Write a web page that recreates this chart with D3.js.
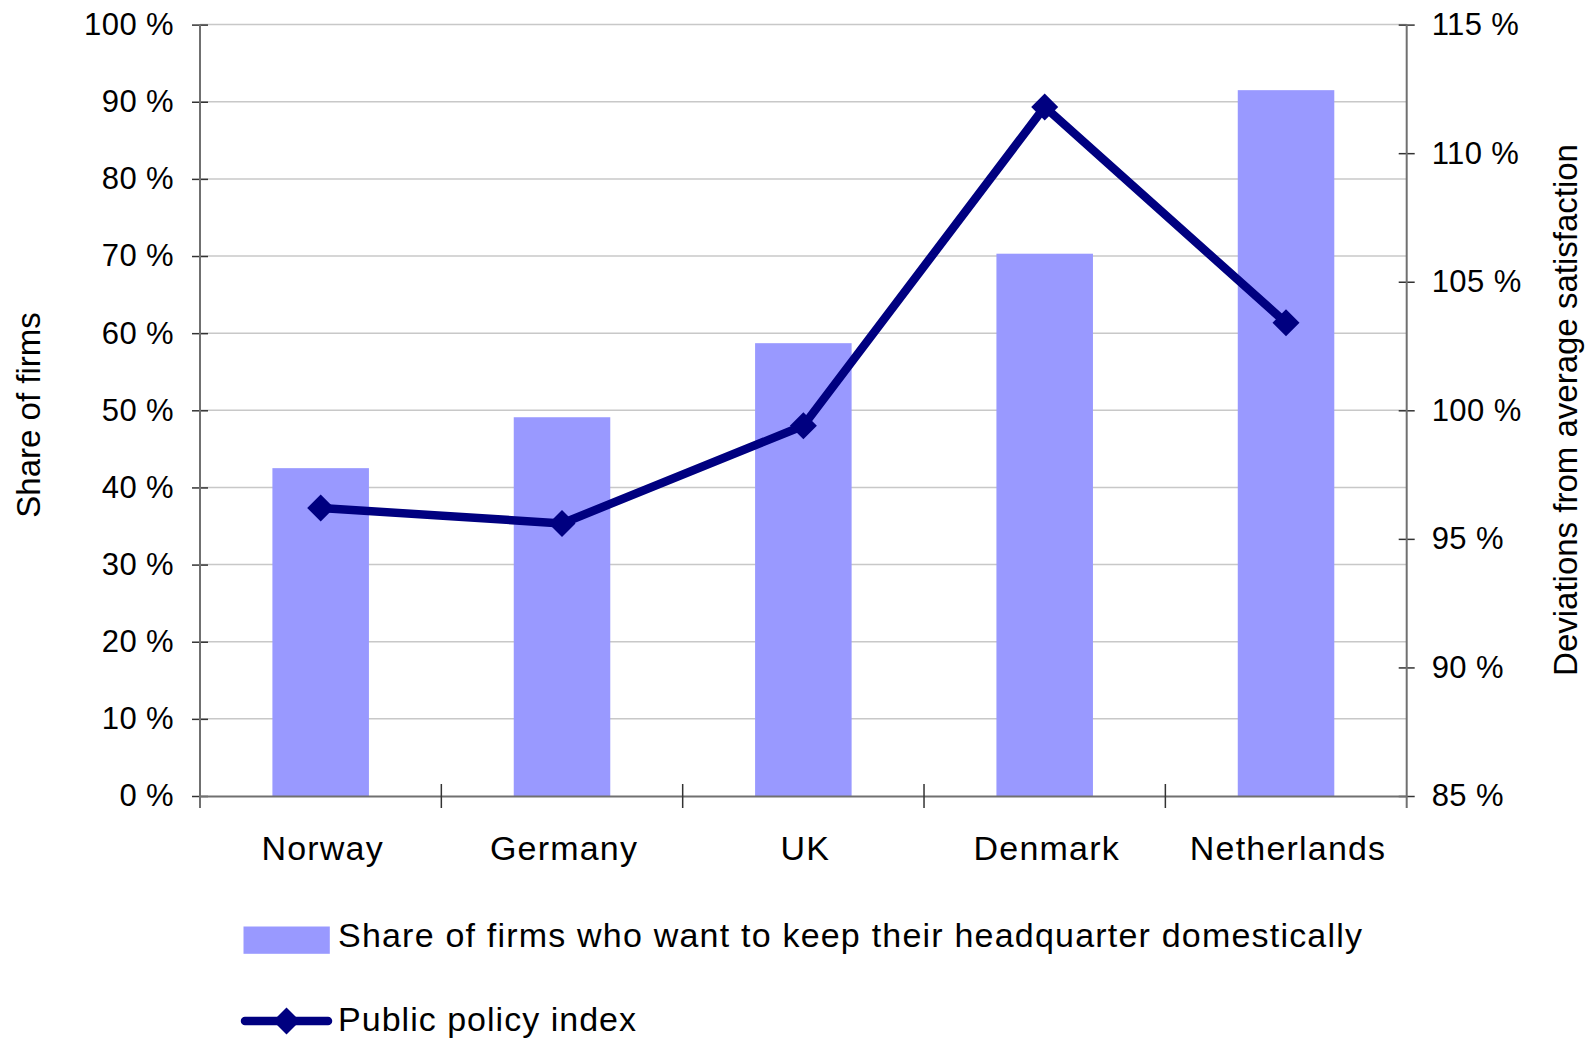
<!DOCTYPE html>
<html>
<head>
<meta charset="utf-8">
<script src="https://cdn.jsdelivr.net/npm/d3@7"></script>
<style>
  body { margin: 0; background: #fff; }
  svg { display: block; font-family: "Liberation Sans", Arial, sans-serif; }
</style>
</head>
<body>
<svg id="chart" width="1591" height="1039"></svg>
<script>
// Data
let countries = ["Norway", "Germany", "UK", "Denmark", "Netherlands"];
let shareKeepHQ = [42.5, 49.1, 58.7, 70.3, 91.5];
let policyIndex = [96.2, 95.6, 99.4, 111.8, 103.4];
let leftTicks = [0, 10, 20, 30, 40, 50, 60, 70, 80, 90, 100];
let rightTicks = [85, 90, 95, 100, 105, 110, 115];

let barColor = "#9999ff";
let lineColor = "#000080";

let plotLeft = 200, plotRight = 1406.7, plotTop = 24.6, plotBottom = 796;

let svg = d3.select("#chart");

let x = d3.scaleBand()
    .domain(countries)
    .range([plotLeft, plotRight])
    .paddingInner(0.6)
    .paddingOuter(0.3);

let yLeft = d3.scaleLinear().domain([0, 100]).range([plotBottom, plotTop]);
let yRight = d3.scaleLinear().domain([85, 115]).range([plotBottom, plotTop]);

// Gridlines
svg.append("g")
    .selectAll("line")
    .data(leftTicks.filter(d => d > 0))
    .enter()
    .append("line")
    .attr("x1", plotLeft)
    .attr("x2", plotRight)
    .attr("y1", d => yLeft(d))
    .attr("y2", d => yLeft(d))
    .attr("stroke", "#c8c8c8")
    .attr("stroke-width", 1.5);

// Bars
svg.append("g")
    .selectAll("rect")
    .data(countries)
    .enter()
    .append("rect")
    .attr("x", d => x(d))
    .attr("width", x.bandwidth())
    .attr("y", (d, i) => yLeft(shareKeepHQ[i]))
    .attr("height", (d, i) => plotBottom - yLeft(shareKeepHQ[i]))
    .attr("fill", barColor);

// Left axis
let leftAxis = svg.append("g")
    .attr("transform", `translate(${plotLeft},0)`)
    .call(d3.axisLeft(yLeft).tickValues(leftTicks).tickFormat(d => d + " %").tickSize(8));
leftAxis.select(".domain").remove();
leftAxis.selectAll(".tick line").attr("x1", -8).attr("x2", 8).attr("stroke", "#333").attr("stroke-width", 1.5);
leftAxis.selectAll(".tick text")
    .attr("x", -26)
    .attr("font-size", 31)
    .attr("letter-spacing", 0.4)
    .attr("fill", "#000");

// Right axis
let rightAxis = svg.append("g")
    .attr("transform", `translate(${plotRight},0)`)
    .call(d3.axisRight(yRight).tickValues(rightTicks).tickFormat(d => d + " %").tickSize(8));
rightAxis.select(".domain").remove();
rightAxis.selectAll(".tick line").attr("x1", -8).attr("x2", 8).attr("stroke", "#333").attr("stroke-width", 1.5);
rightAxis.selectAll(".tick text")
    .attr("x", 25)
    .attr("font-size", 31)
    .attr("letter-spacing", 0.4)
    .attr("fill", "#000");

// Axis lines
svg.append("line")
    .attr("x1", plotLeft).attr("x2", plotLeft).attr("y1", plotTop).attr("y2", plotBottom + 12)
    .attr("stroke", "#707070").attr("stroke-width", 2);
svg.append("line")
    .attr("x1", plotRight).attr("x2", plotRight).attr("y1", plotTop).attr("y2", plotBottom + 12)
    .attr("stroke", "#707070").attr("stroke-width", 2);

// Bottom axis: labels centered under bands, ticks between categories
let bottomAxis = svg.append("g")
    .attr("transform", `translate(0,${plotBottom})`)
    .call(d3.axisBottom(x).tickSize(0));
bottomAxis.select(".domain")
    .attr("stroke", "#707070").attr("stroke-width", 2);
bottomAxis.selectAll(".tick text")
    .attr("x", 2)
    .attr("y", 64)
    .attr("dy", 0)
    .attr("font-size", 34)
    .attr("letter-spacing", 1.2)
    .attr("fill", "#000");

let step = x.step();
let boundaries = countries.map(d => x(d) - x.paddingOuter() * step).concat([plotRight]);
svg.append("g")
    .selectAll("line")
    .data(boundaries.slice(1, -1))
    .enter()
    .append("line")
    .attr("x1", d => d)
    .attr("x2", d => d)
    .attr("y1", plotBottom - 12)
    .attr("y2", plotBottom + 12)
    .attr("stroke", "#333")
    .attr("stroke-width", 1.5);

// Line series
let cx = d => x(d) + x.bandwidth() / 2;
let line = d3.line()
    .x((d, i) => cx(countries[i]))
    .y(d => yRight(d));

svg.append("path")
    .datum(policyIndex)
    .attr("d", line)
    .attr("fill", "none")
    .attr("stroke", lineColor)
    .attr("stroke-width", 8.5)
    .attr("stroke-linejoin", "round");

let diamond = d3.symbol().type(d3.symbolSquare).size(2 * 13.5 * 13.5);
svg.append("g")
    .selectAll("path")
    .data(policyIndex)
    .enter()
    .append("path")
    .attr("d", diamond)
    .attr("transform", (d, i) => `translate(${cx(countries[i])},${yRight(d)}) rotate(45)`)
    .attr("fill", lineColor);

// Axis titles
svg.append("text")
    .attr("transform", "translate(40,415) rotate(-90)")
    .attr("text-anchor", "middle")
    .attr("font-size", 33)
    .text("Share of firms");

svg.append("text")
    .attr("transform", "translate(1577,410) rotate(-90)")
    .attr("text-anchor", "middle")
    .attr("font-size", 33)
    .text("Deviations from average satisfaction");

// Legend
let legend = svg.append("g");
legend.append("rect")
    .attr("x", 243.5).attr("y", 926.5)
    .attr("width", 86.3).attr("height", 27.3)
    .attr("fill", barColor);
legend.append("text")
    .attr("x", 338).attr("y", 946.7)
    .attr("font-size", 34)
    .attr("textLength", 1024)
    .attr("lengthAdjust", "spacing")
    .text("Share of firms who want to keep their headquarter domestically");

legend.append("line")
    .attr("x1", 245).attr("x2", 328)
    .attr("y1", 1021).attr("y2", 1021)
    .attr("stroke", lineColor)
    .attr("stroke-width", 8.5)
    .attr("stroke-linecap", "round");
legend.append("path")
    .attr("d", diamond)
    .attr("transform", "translate(286.5,1021) rotate(45)")
    .attr("fill", lineColor);
legend.append("text")
    .attr("x", 338).attr("y", 1031)
    .attr("font-size", 34)
    .attr("textLength", 298)
    .attr("lengthAdjust", "spacing")
    .text("Public policy index");
</script>
</body>
</html>
